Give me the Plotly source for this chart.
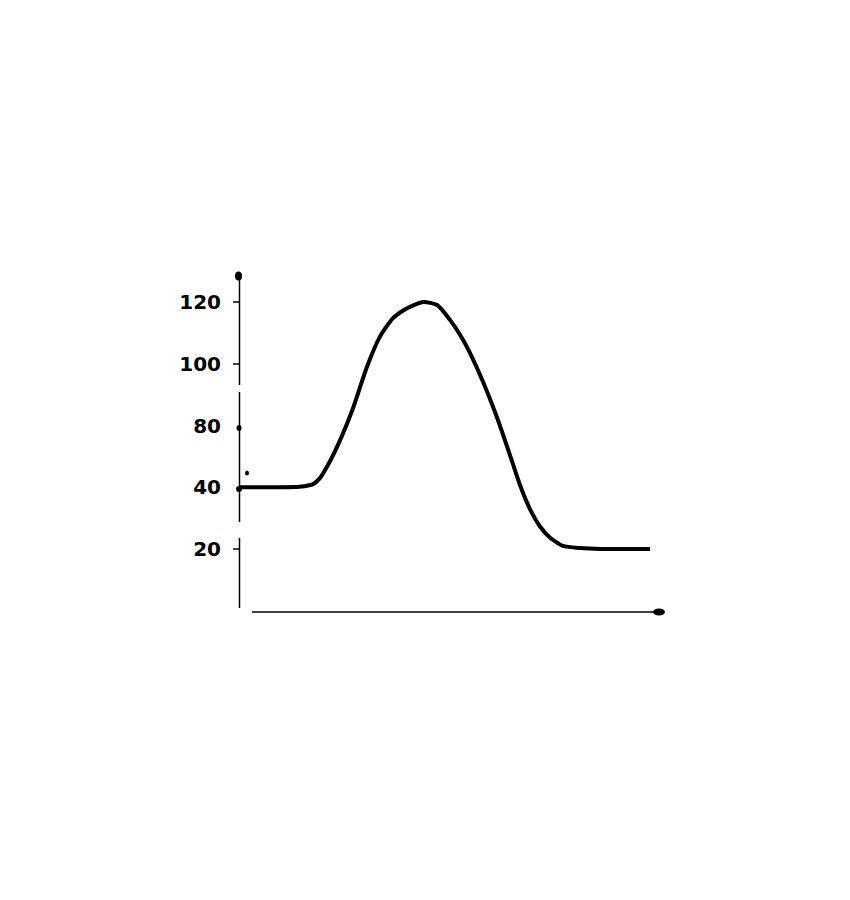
import numpy as np
import plotly.graph_objects as go

# ---- data ----
tick_labels = [20, 40, 80, 100, 120]          # y tick labels as printed
tick_pos = [1, 2, 3, 4, 5]                     # evenly spaced positions of those ticks

x_vals = [0, 8, 14, 17.2, 18.8, 21.2, 23.5, 26.6, 29.9, 32.9, 36, 39.3, 43.1, 46.4,
          49.4, 52.5, 54.1, 57.2, 60.5, 63.5, 65.9, 68.2, 70.6, 72.9, 76, 80, 85, 96.5]
y_vals = [40, 40, 40.3, 42, 45.9, 57, 70.2, 85.6, 99.1, 108.7, 114.8, 118, 120, 119,
          114.2, 107.7, 103.5, 94.1, 82.5, 61, 41.3, 33, 27.3, 23.7, 21, 20.3, 20, 20]

# map values onto the (non-linear) printed tick scale
y_plot = np.interp(y_vals, tick_labels, tick_pos)

OFF = 8  # page body margin


# reference-pixel helpers (plot area in reference pixels: x 240..665, y 270..615)
def py(p):
    return 1 + (549 - p) / 61.75


def ppx(p):
    return (p - 240) / 425.0


def ppy(p):
    return (615 - p) / 345.0


fig = go.Figure()

fig.add_trace(go.Scatter(
    x=x_vals, y=y_plot, mode="lines",
    line=dict(color="black", width=4, shape="spline", smoothing=0.6),
    hoverinfo="skip", showlegend=False, cliponaxis=False,
))

# hand-drawn y axis with small gaps
segments = [(276, 385), (392, 522), (538, 608)]
for a, b in segments:
    fig.add_shape(type="line", xref="paper", yref="paper",
                  x0=ppx(239.5), x1=ppx(239.5), y0=ppy(a), y1=ppy(b),
                  line=dict(color="black", width=1.5))

# short dash ticks (120, 100, 20)
for t in [302, 364, 549]:
    fig.add_shape(type="line", xref="paper", yref="paper",
                  x0=ppx(233), x1=ppx(240), y0=ppy(t), y1=ppy(t),
                  line=dict(color="black", width=1.5))

# x axis line
fig.add_shape(type="line", xref="paper", yref="paper",
              x0=ppx(252), x1=ppx(656), y0=ppy(612), y1=ppy(612),
              line=dict(color="black", width=1.5))


def dot(cx, cy, rx, ry):
    fig.add_shape(type="circle", xref="paper", yref="paper",
                  xsizemode="pixel", ysizemode="pixel",
                  xanchor=ppx(cx), yanchor=ppy(cy),
                  x0=-rx, x1=rx, y0=-ry, y1=ry,
                  fillcolor="black", line=dict(color="black", width=0))


dot(238.5, 276, 3.5, 4.5)   # top of y axis
dot(239, 428, 2.5, 3)       # tick dot at 80
dot(239, 489, 3, 3)         # tick dot at 40
dot(247, 473, 2, 2.5)       # small pen mark
dot(659, 612, 6, 3.5)       # arrow head of x axis

fig.update_layout(
    width=850, height=900,
    margin=dict(l=240 - OFF, r=850 - 665 + OFF, t=270 - OFF, b=900 - 615 + OFF),
    plot_bgcolor="white", paper_bgcolor="white",
    xaxis=dict(range=[0, 100], showgrid=False, zeroline=False, showline=False,
               showticklabels=False, ticks=""),
    yaxis=dict(range=[py(615), py(270)], showgrid=False, zeroline=False, showline=False,
               tickvals=tick_pos, ticktext=[str(t) for t in tick_labels],
               ticks="", ticklabelstandoff=18,
               tickfont=dict(family="DejaVu Sans", size=20, color="black", weight="bold")),
)

fig.write_html("out.html")
